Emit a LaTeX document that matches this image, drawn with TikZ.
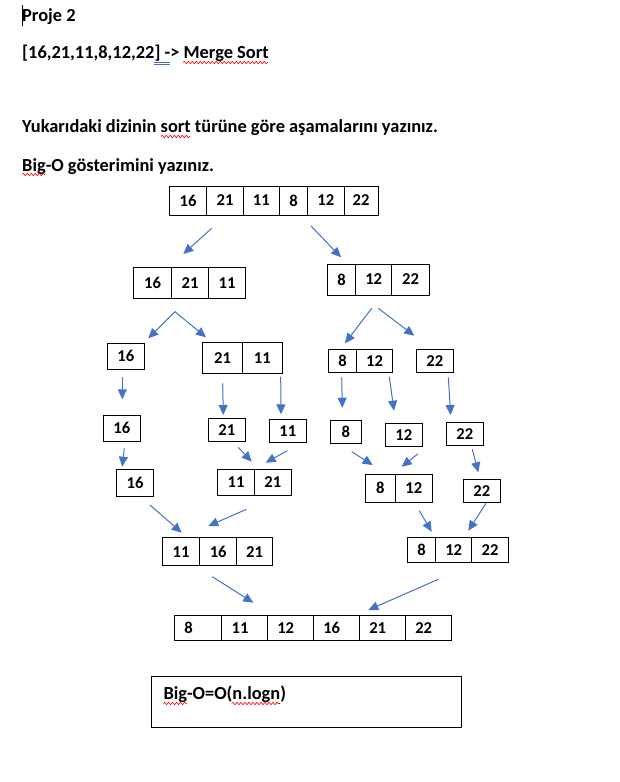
\documentclass[tikz,border=0pt]{standalone}
\usepackage{fontspec}
\setmainfont{Carlito}
\usetikzlibrary{arrows.meta, positioning, decorations.pathmorphing}

\definecolor{arrowblue}{HTML}{4472C4}

\begin{document}
\begin{tikzpicture}[
    x=1pt, y=-1pt,
    heading/.style={inner sep=0pt, anchor=base west, font=\fontsize{18.4}{22}\selectfont\bfseries},
    cell/.style 2 args={draw=black, line width=1pt, inner sep=0pt, minimum width=#1, minimum height=#2, font=\fontsize{16.6}{19}\selectfont\bfseries},
    lastcell/.style={cell={#1}{24.7}, inner xsep=10pt, text width=#1-20pt, align=left},
    arrow/.style={draw=arrowblue, line width=1pt, -{Triangle[length=10pt,width=9pt]}},
    squiggle/.style={draw=red, line width=0.6pt, decorate, decoration={snake, amplitude=1.2pt, segment length=4pt}}
]
\useasboundingbox (0,0) rectangle (619,782);

% Header
\draw[line width=0.6pt] (22.3,5) -- (22.3,26);
\node[heading] (title) at (22,21.7) {Proje 2};
\node[heading] (task) at (22,58.3) {[16,21,11,8,12,22] -> Merge Sort};
\node[heading] (q1) at (22,132.7) {Yukarıdaki dizinin sort türüne göre aşamalarını yazınız.};
\node[heading] (q2) at (22,171.7) {Big-O gösterimini yazınız.};
\draw[squiggle] (183,62.5) -- (268,62.5);
\draw[arrowblue, line width=0.6pt] (154.3,62) -- (170,62) (154.3,64.5) -- (170,64.5);
\draw[squiggle] (161,136.5) -- (190,136.5);
\draw[squiggle] (22,174.5) -- (45,174.5);

% Level 0
\node[cell={37.4}{29}] (a1) at (188,200.5) {16};
\node[cell={36.6}{29}] (a2) at (225,200.5) {21};
\node[cell={36}{29}] (a3) at (261.3,200.5) {11};
\node[cell={28.4}{29}] (a4) at (293.5,200.5) {8};
\node[cell={36.3}{29}] (a5) at (325.85,200.5) {12};
\node[cell={34.3}{29}] (a6) at (361.15,200.5) {22};

% Level 1
\node[cell={38.4}{31}] (b1) at (152.5,282.8) {16};
\node[cell={36.6}{31}] (b2) at (190,282.8) {21};
\node[cell={37.4}{31}] (b3) at (227,282.8) {11};
\node[cell={28}{31}] (c1) at (341.7,279.5) {8};
\node[cell={36}{31}] (c2) at (373.7,279.5) {12};
\node[cell={37.6}{31}] (c3) at (410.5,279.5) {22};

% Level 2
\node[cell={37}{26}] (d1) at (125.8,356.3) {16};
\node[cell={39.6}{31}] (e1) at (222.5,357.8) {21};
\node[cell={40}{31}] (e2) at (262.3,357.8) {11};
\node[cell={28.4}{23}] (f1) at (342.5,360.8) {8};
\node[cell={35.6}{23}] (f2) at (374.5,360.8) {12};
\node[cell={37}{23}] (g1) at (434.8,360.8) {22};

% Level 3
\node[cell={37}{26}] (h1) at (121.8,428.3) {16};
\node[cell={37}{23}] (i1) at (226.8,429.8) {21};
\node[cell={37}{23}] (j1) at (287.8,430.8) {11};
\node[cell={31}{23}] (k1) at (345.8,431.8) {8};
\node[cell={37}{23}] (l1) at (403.8,434.8) {12};
\node[cell={37}{23}] (m1) at (464.8,434.2) {22};

% Level 4
\node[cell={36.6}{26.6}] (n1) at (135,483) {16};
\node[cell={36.6}{25.7}] (o1) at (236,482.2) {11};
\node[cell={37}{25.7}] (o2) at (272.8,482.2) {21};
\node[cell={30}{28}] (p1) at (380.3,488.3) {8};
\node[cell={37}{28}] (p2) at (413.8,488.3) {12};
\node[cell={37}{23}] (q1) at (481.8,490.8) {22};

% Level 5
\node[cell={37.4}{28.3}] (r1) at (181,551.8) {11};
\node[cell={37}{28.3}] (r2) at (218.2,551.8) {16};
\node[cell={35.6}{28.3}] (r3) at (254.5,551.8) {21};
\node[cell={28}{24.6}] (s1) at (421.7,550) {8};
\node[cell={36}{24.6}] (s2) at (453.7,550) {12};
\node[cell={36.6}{24.6}] (s3) at (490,550) {22};

% Sorted
\node[lastcell=47.4] (t1) at (198,627.7) {8};
\node[lastcell=45.6] (t2) at (244.5,627.7) {11};
\node[lastcell=46] (t3) at (290.3,627.7) {12};
\node[lastcell=46] (t4) at (336.3,627.7) {16};
\node[lastcell=46] (t5) at (382.3,627.7) {21};
\node[lastcell=46] (t6) at (428.3,627.7) {22};

% Arrows
\foreach \i/\sx/\sy/\ex/\ey in {
    1/211.7/228.3/183.3/254, 2/311/226/341/257.3,
    3/175/311.7/148.3/338.3, 4/175/311.7/206/337.3,
    5/371.7/308.3/345/343.3, 6/378.3/308.3/414.3/335.7,
    7/122.3/377.3/122.3/399.3, 8/222.7/383.3/223.3/415,
    9/280.7/376.7/281/414.3, 10/341.7/377.3/342.3/407.7,
    11/389.3/376.7/394/410.7, 12/448.3/377.3/450.7/415,
    13/124.3/448.3/122.3/466.7, 14/238.3/447.3/251.7/461.7,
    15/287.3/450.7/265.7/462.7, 16/351.7/451.7/372.7/465,
    17/417.7/454/401.7/466.7, 18/472.3/449.3/478.3/472.3,
    19/150/505/181.7/532.7, 20/246.5/509.3/208.3/526,
    21/419.3/510.7/431.7/531.7, 22/486/503.3/468.3/530.7,
    23/212.3/576.7/253.3/602.7, 24/438.3/579.3/368.3/610}
{
    \coordinate (from\i) at (\sx,\sy);
    \coordinate (to\i) at (\ex,\ey);
    \draw[arrow] (from\i) -- (to\i);
}

% Complexity
\node[draw=black, line width=1pt, minimum width=310, minimum height=51.3] (bigo) at (306.7,701.7) {};
\node[heading] (bigotext) at (163.3,699) {Big-O=O(n.logn)};
\draw[squiggle] (163.3,703.5) -- (186.7,703.5);
\draw[squiggle] (231.7,703.5) -- (280,703.5);

\end{tikzpicture}
\end{document}
